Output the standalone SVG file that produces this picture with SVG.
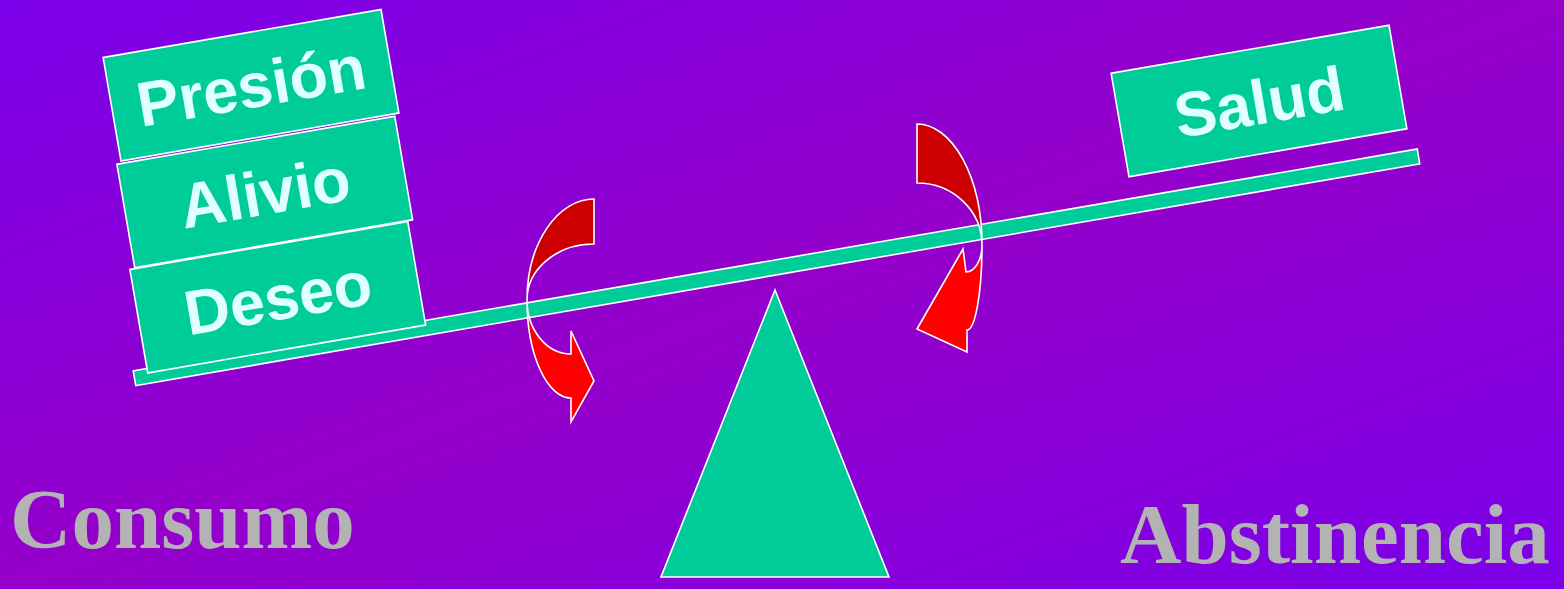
<svg xmlns="http://www.w3.org/2000/svg" width="1564" height="589" viewBox="0 0 1564 589">
  <defs>
    <linearGradient id="bg" x1="0" y1="0" x2="1" y2="1">
      <stop offset="0" stop-color="#7c00ea"/>
      <stop offset="0.5" stop-color="#9500ca"/>
      <stop offset="1" stop-color="#7c00ea"/>
    </linearGradient>
  </defs>
  <style>
    .teal { fill: #00cc99; stroke: #ffffff; stroke-width: 1.6; }
    .box-text { font-family: "Liberation Sans", Arial, sans-serif; font-weight: bold; font-size: 63px; fill: #e0ffff; text-anchor: middle; }
    .side { font-family: "Liberation Serif", "Times New Roman", serif; font-weight: bold; font-size: 85px; fill: #b3b3b3; }
    .back { fill: #cc0000; stroke: #ffffff; stroke-width: 1.6; stroke-linejoin: miter; }
    .front { fill: #ff0000; stroke: #ffffff; stroke-width: 1.6; stroke-linejoin: miter; }
  </style>
  <rect x="0" y="0" width="1564" height="589" fill="url(#bg)"/>

  <g id="fulcrum">
    <polygon class="teal" points="775,290 889,577 661,577"/>
  </g>

  <g id="beam">
    <rect class="teal" transform="translate(776.5,267.3) rotate(-9.8)" x="-651.5" y="-7.5" width="1303" height="15"/>
  </g>

  <g id="deseo" transform="translate(277.75,297.25) rotate(-9.8)">
    <rect class="teal" x="-141" y="-52.5" width="282" height="105"/>
    <text class="box-text" x="0" y="22.5">Deseo</text>
  </g>
  <g id="alivio" transform="translate(264.75,192) rotate(-9.8)">
    <rect class="teal" x="-141" y="-52.5" width="282" height="105"/>
    <text class="box-text" x="0" y="22.5">Alivio</text>
  </g>
  <g id="presion" transform="translate(251,85.25) rotate(-9.8)">
    <rect class="teal" x="-141" y="-52.5" width="282" height="105"/>
    <text class="box-text" x="0" y="22.5">Presión</text>
  </g>
  <g id="salud" transform="translate(1259,101) rotate(-9.8)">
    <rect class="teal" x="-141" y="-52.5" width="282" height="105"/>
    <text class="box-text" x="0" y="23">Salud</text>
  </g>

  <g id="connectors">
    <g id="arrow-left">
      <path class="back" d="M594,199 A67,101 0 0 0 527,300 A67,56 0 0 1 594,244 Z"/>
      <path class="front" d="M527,300 A44,98 0 0 0 571,398 L571,422 L594,381 L571,331 L571,354 A44,54 0 0 1 527,300 Z"/>
    </g>
    <g id="arrow-right">
      <path class="back" d="M917,124 A65,121 0 0 1 982,245 A65,62 0 0 0 917,183 Z"/>
      <path class="front" d="M982,245 A15,85 0 0 1 967,330 L967,352 L917,329 L963,249 L966,272 A16,27 0 0 0 982,245 Z"/>
    </g>
  </g>

  <g id="consumo">
    <text class="side" x="10" y="548">Consumo</text>
  </g>
  <g id="abstinencia">
    <text class="side" x="1120" y="563">Abstinencia</text>
  </g>
</svg>
